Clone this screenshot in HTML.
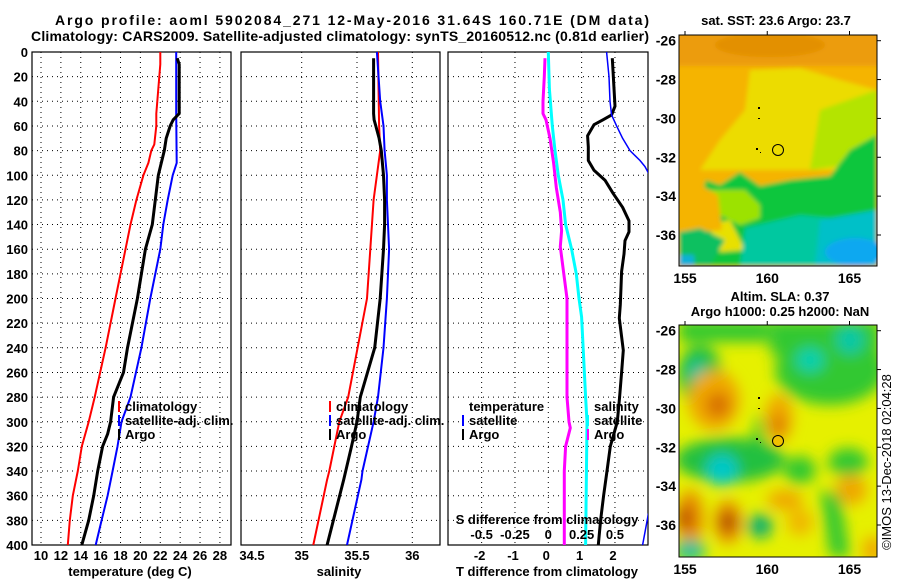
<!DOCTYPE html>
<html><head><meta charset="utf-8">
<style>
html,body{margin:0;padding:0;background:#fff;}
svg{display:block;font-family:"Liberation Sans",Arial,sans-serif;}
.t{font-weight:bold;font-size:13px;fill:#000;}
.h{font-weight:bold;font-size:14px;fill:#000;}
</style></head>
<body>
<svg id="c" width="900" height="580" viewBox="0 0 900 580" xmlns="http://www.w3.org/2000/svg">
<defs>
<clipPath id="cp1"><rect x="32" y="52" width="199" height="493"/></clipPath>
<clipPath id="cp2"><rect x="241" y="52" width="199" height="493"/></clipPath>
<clipPath id="cp3"><rect x="448" y="52" width="200" height="493"/></clipPath>
<clipPath id="cm1"><rect x="679" y="35" width="198" height="231"/></clipPath>
<clipPath id="cm2"><rect x="679" y="325" width="198" height="232"/></clipPath>
<filter id="bl" x="-20%" y="-20%" width="140%" height="140%"><feGaussianBlur stdDeviation="7"/></filter>
<filter id="bl2"><feGaussianBlur stdDeviation="2"/></filter>
</defs>
<text class="h" x="352" y="25" text-anchor="middle" textLength="594">Argo profile: aoml 5902084_271 12-May-2016 31.64S 160.71E (DM data)</text>
<text class="h" x="340" y="41" text-anchor="middle" textLength="618">Climatology: CARS2009. Satellite-adjusted climatology: synTS_20160512.nc (0.81d earlier)</text>

<g id="grids"></g>
<g id="series"></g>
<g id="labels"></g>

<g>
<text class="t" x="776" y="25" text-anchor="middle">sat. SST: 23.6 Argo: 23.7</text>
<g clip-path="url(#cm1)" filter="url(#bl2)">
<rect x="670" y="30" width="215" height="240" fill="#f5b400"/>
<rect x="670" y="30" width="215" height="36" fill="#ec9c08"/>
<ellipse cx="770" cy="45" rx="55" ry="12" fill="#e39000"/>
<polygon points="750,70 800,68 840,80 877,90 877,170 700,170 720,140 745,110" fill="#ecdc00"/>
<polygon points="820,110 877,90 877,160 810,170" fill="#b4e400"/>
<polygon points="679,215 700,200 706,180 720,185 740,172 760,186 790,180 830,176 850,150 877,135 877,266 679,266" fill="#08c63c"/>
<polygon points="710,190 745,190 760,205 760,218 740,225 720,215" fill="#9ce200"/>
<polygon points="708,225 730,220 745,250 720,252" fill="#e8e000"/>
<polygon points="679,200 700,185 718,195 722,230 700,232 679,232" fill="#f5b400"/>
<polygon points="679,232 700,228 725,240 710,266 679,266" fill="#10c060"/>
<polygon points="745,228 800,215 830,218 840,266 740,266" fill="#00c8a0"/>
<polygon points="820,220 877,210 877,266 815,266" fill="#00c0c8"/>
<ellipse cx="855" cy="252" rx="30" ry="14" fill="#10a8f0"/>
<rect x="679" y="255" width="15" height="11" fill="#08b0d8"/>
</g>
<rect x="679" y="35" width="198" height="231" fill="none" stroke="#000" stroke-width="1"/>
<circle cx="778" cy="150" r="5.5" fill="none" stroke="#000" stroke-width="1"/>
<rect x="758" y="107" width="2" height="2" fill="#000"/><rect x="758" y="118" width="2" height="1" fill="#000"/><rect x="756" y="148" width="2" height="2" fill="#000"/><rect x="760" y="152" width="1" height="1" fill="#000"/>
</g>

<g>
<text class="t" x="780" y="301" text-anchor="middle">Altim. SLA: 0.37</text>
<text class="t" x="780" y="316" text-anchor="middle">Argo h1000: 0.25 h2000: NaN</text>
<g clip-path="url(#cm2)">
<rect x="670" y="320" width="215" height="245" fill="#e6f000"/>
<g filter="url(#bl)">
<rect x="679" y="320" width="90" height="22" fill="#30c830"/>
<rect x="770" y="320" width="110" height="35" fill="#30c830"/>
<ellipse cx="830" cy="370" rx="55" ry="35" fill="#30c830"/>
<ellipse cx="700" cy="375" rx="22" ry="30" fill="#20c040"/>
<ellipse cx="697" cy="372" rx="9" ry="12" fill="#10c0a0"/>
<ellipse cx="810" cy="360" rx="14" ry="12" fill="#00d0b0"/>
<ellipse cx="850" cy="340" rx="14" ry="14" fill="#00c8a8"/>
<ellipse cx="714" cy="400" rx="26" ry="30" fill="#f0a800"/>
<ellipse cx="718" cy="405" rx="12" ry="13" fill="#d87000"/>
<ellipse cx="779" cy="418" rx="14" ry="24" fill="#f0a800"/>
<ellipse cx="778" cy="425" rx="6" ry="10" fill="#d87000"/>
<ellipse cx="759" cy="437" rx="5" ry="22" fill="#30c830"/>
<ellipse cx="730" cy="460" rx="55" ry="22" fill="#20c040"/>
<ellipse cx="722" cy="470" rx="16" ry="16" fill="#00c8c8"/>
<ellipse cx="800" cy="470" rx="16" ry="14" fill="#30c830"/>
<ellipse cx="848" cy="462" rx="20" ry="14" fill="#30c830"/>
<ellipse cx="690" cy="518" rx="14" ry="28" fill="#e89000"/>
<ellipse cx="685" cy="518" rx="7" ry="12" fill="#b84000"/>
<ellipse cx="728" cy="522" rx="14" ry="22" fill="#e89000"/>
<ellipse cx="728" cy="522" rx="7" ry="10" fill="#a03000"/>
<ellipse cx="760" cy="526" rx="13" ry="12" fill="#10b070"/>
<ellipse cx="785" cy="500" rx="18" ry="10" fill="#f0a800"/>
<ellipse cx="800" cy="522" rx="13" ry="14" fill="#f0b800"/>
<ellipse cx="851" cy="490" rx="16" ry="15" fill="#f0a800"/>
<polygon points="820,490 840,495 850,557 830,557" fill="#30c830"/>
<ellipse cx="690" cy="550" rx="16" ry="10" fill="#10c0a0"/>
<ellipse cx="873" cy="550" rx="10" ry="14" fill="#f0a800"/>
</g>
</g>
<rect x="679" y="325" width="198" height="232" fill="none" stroke="#000" stroke-width="1"/>
<circle cx="778" cy="441" r="5.5" fill="#f0c000" stroke="#000" stroke-width="1"/>
<rect x="758" y="397" width="2" height="2" fill="#000"/><rect x="758" y="408" width="2" height="1" fill="#000"/><rect x="756" y="438" width="2" height="2" fill="#000"/><rect x="760" y="442" width="1" height="1" fill="#000"/>
</g>
<g id="maplabels"></g>
<text x="891" y="462" font-size="13" text-anchor="middle" transform="rotate(-90 891 462)" fill="#000">©IMOS 13-Dec-2018 02:04:28</text>
</svg>
<script>
const depthTicks = [0,20,40,60,80,100,120,140,160,180,200,220,240,260,280,300,320,340,360,380,400];
const tempTicks = [10,12,14,16,18,20,22,24,26,28];
const salTicks = [34.5,35,35.5,36];
const salGrid = [35,35.5,36];
const tdiffTicks = [-2,-1,0,1,2];
const sdiffTicks = [-0.5,-0.25,0,0.25,0.5];
const latTicks = [-26,-28,-30,-32,-34,-36];
const lonTicks = [155,160,165];

const climTDepth = [0,10,50,60,75,80,90,100,120,140,160,200,240,280,300,320,340,360,380,400];
const climT      = [22.0,22.0,21.6,21.6,21.4,21.1,20.8,20.3,19.6,19.0,18.5,17.5,16.5,15.4,14.8,14.1,13.7,13.2,12.9,12.7];
const satTDepth  = [0,50,90,100,120,140,160,200,240,280,300,320,340,360,380,400];
const satT       = [23.6,23.6,23.65,23.25,22.75,22.3,22.0,21.0,20.1,19.0,18.1,17.7,17.2,16.7,16.1,15.5];
const argoTDepth = [5,10,50,55,60,70,80,90,100,120,140,160,200,240,260,280,300,310,320,340,360,380,400];
const argoT      = [23.7,23.9,23.9,23.3,23.0,22.6,22.4,22.1,21.8,21.5,21.2,20.5,19.7,18.7,18.3,17.3,17.0,16.7,16.2,15.7,15.3,14.8,14.1];

const climSDepth = [0,60,80,100,120,200,280,300,340,347,400];
const climS      = [35.69,35.70,35.71,35.68,35.65,35.59,35.42,35.34,35.25,35.23,35.105];
const satSDepth  = [0,40,60,80,100,120,140,160,200,240,280,300,340,347,400];
const satS       = [35.68,35.71,35.74,35.75,35.77,35.77,35.78,35.79,35.77,35.74,35.69,35.65,35.55,35.54,35.41];
const argoSDepth = [5,50,55,60,70,80,100,120,140,160,200,240,280,300,320,347,400];
const argoS      = [35.65,35.65,35.655,35.67,35.70,35.72,35.74,35.75,35.75,35.74,35.71,35.66,35.53,35.50,35.45,35.38,35.23];

const argoTdDepth = [5,44,51,55,59,68,77,88,96,104,115,126,137,146,153,164,178,191,205,216,242,260,280,300,320,340,360,380,400];
const argoTd      = [1.92,2.0,1.9,1.64,1.37,1.18,1.2,1.2,1.37,1.7,1.95,2.23,2.42,2.42,2.3,2.27,2.2,2.18,2.16,2.13,2.25,2.2,2.14,2.07,1.86,1.76,1.66,1.57,1.5];
const satTdDepth  = [0,20,40,51,60,70,80,88,93,98,130,200,300,360,375,400];
const satTd       = [1.75,1.82,1.85,1.9,2.05,2.23,2.45,2.75,2.9,3.0,3.6,4.0,3.6,3.2,3.0,2.83];
const satSdDepth  = [0,30,60,80,100,120,140,160,180,200,215,280,300,400];
const satSd       = [0.0,0.008,0.03,0.05,0.075,0.11,0.13,0.175,0.21,0.23,0.25,0.28,0.29,0.28];
const argoSdDepth = [5,20,40,50,55,70,90,110,130,145,158,175,200,215,280,300,305,320,340,400];
const argoSd      = [-0.025,-0.03,-0.04,-0.04,-0.017,0.013,0.04,0.06,0.09,0.1,0.09,0.11,0.14,0.14,0.14,0.155,0.165,0.13,0.12,0.12];

const Y = d => 52 + d*1.2325;
const XT = t => 41 + (t-10)*9.94;
const XS = s => 301.7 + (s-35)*110.6;
const XD = t => 548.3 + t*33.33;
const XSD = s => 548.3 + s*133.33;
const MX = lon => 685 + (lon-155)*16.45;
const MY1 = lat => 40.7 + (-26-lat)*19.43;
const MY2 = lat => 330.7 + (-26-lat)*19.43;

const NS='http://www.w3.org/2000/svg';
function mk(tag, attrs, parent){const e=document.createElementNS(NS,tag);for(const k in attrs)e.setAttribute(k,attrs[k]);parent.appendChild(e);return e;}
const grids=document.getElementById('grids'), series=document.getElementById('series'), labels=document.getElementById('labels'), ml=document.getElementById('maplabels');
const panels=[[32,231],[241,440],[448,648]];

panels.forEach((p,i)=>{
  depthTicks.forEach(d=>{ if(d>0&&d<400){const l=mk('line',{x1:p[0],x2:p[1],y1:Y(d),y2:Y(d),stroke:'#000','stroke-width':1,'stroke-dasharray':'1,4'},grids);
    
    }});
});
tempTicks.forEach(t=>{const l=mk('line',{x1:XT(t),x2:XT(t),y1:52,y2:545,stroke:'#000','stroke-dasharray':'1,4'},grids);
  
  
  const tx=mk('text',{x:XT(t),y:560,'text-anchor':'middle',class:'t'},labels);tx.textContent=t;
  
  });
salGrid.forEach(s=>{const l=mk('line',{x1:XS(s),x2:XS(s),y1:52,y2:545,stroke:'#000','stroke-dasharray':'1,4'},grids);
  
  });
salTicks.forEach(s=>{const tx=mk('text',{x:Math.max(XS(s),252),y:560,'text-anchor':'middle',class:'t'},labels);tx.textContent=s;
  
  });
tdiffTicks.forEach(t=>{const l=mk('line',{x1:XD(t),x2:XD(t),y1:52,y2:545,stroke:'#000','stroke-dasharray':'1,4'},grids);
  
  
  const tx=mk('text',{x:XD(t)-2,y:560,'text-anchor':'middle',class:'t'},labels);tx.textContent=t;
  
  });
sdiffTicks.forEach(s=>{const tx=mk('text',{x:XSD(s),y:539,'text-anchor':'middle',class:'t'},labels);tx.textContent=s;
  
  });
depthTicks.forEach(d=>{const tx=mk('text',{x:28,y:Y(d)+5,'text-anchor':'end',class:'t'},labels);tx.textContent=d;
  
  });
panels.forEach((p,i)=>{const r=mk('rect',{x:p[0],y:52,width:p[1]-p[0],height:493,fill:'none',stroke:'#000','stroke-width':1.2},grids);
  
  });

function line(xs, ds, X, color, w, clip, name){
  const pts=xs.map((v,i)=>X(v).toFixed(1)+','+Y(ds[i]).toFixed(1)).join(' ');
  const pl=mk('polyline',{points:pts,fill:'none',stroke:color,'stroke-width':w,'stroke-linejoin':'round','clip-path':'url(#'+clip+')'},series);
  
  
}
line(climT,climTDepth,XT,'#f00',2,'cp1','temperature-climatology-line');
line(satT,satTDepth,XT,'#00f',2,'cp1','temperature-satellite-line');
line(argoT,argoTDepth,XT,'#000',3,'cp1','temperature-argo-line');
line(climS,climSDepth,XS,'#f00',2,'cp2','salinity-climatology-line');
line(satS,satSDepth,XS,'#00f',2,'cp2','salinity-satellite-line');
line(argoS,argoSDepth,XS,'#000',3,'cp2','salinity-argo-line');
line(argoSd,argoSdDepth,XSD,'#f0f',3,'cp3','sdiff-argo-line');
line(satSd,satSdDepth,XSD,'#0ff',3,'cp3','sdiff-satellite-line');
line(argoTd,argoTdDepth,XD,'#000',3,'cp3','tdiff-argo-line');
line(satTd,satTdDepth,XD,'#00f',1.5,'cp3','tdiff-satellite-line');

function leg(x,y,color,txt,name){
  if(color){const m=mk('rect',{x:x-7,y:y-10,width:2,height:11,fill:color},labels);
    
    }
  const t=mk('text',{x:x,y:y,class:'t'},labels);t.textContent=txt;
  
  
}
leg(125,411,'#f00','climatology','legend-climatology');
leg(125,425,'#00f','satellite-adj. clim.','legend-satellite');
leg(125,439,'#000','Argo','legend-argo');
leg(336,411,'#f00','climatology','legend-climatology-salinity');
leg(336,425,'#00f','satellite-adj. clim.','legend-satellite-salinity');
leg(336,439,'#000','Argo','legend-argo-salinity');
leg(469,411,null,'temperature','legend-temperature-header');
leg(469,425,'#00f','satellite','legend-tdiff-satellite');
leg(469,439,'#000','Argo','legend-tdiff-argo');
leg(594,411,null,'salinity','legend-salinity-header');
leg(594,425,'#0ff','satellite','legend-sdiff-satellite');
leg(594,439,'#f0f','Argo','legend-sdiff-argo');

function title(x,y,txt,name){const t=mk('text',{x:x,y:y,'text-anchor':'middle',class:'t'},labels);t.textContent=txt;
  
  }
title(130,576,'temperature (deg C)','temperature-axis-title');
title(339,576,'salinity','salinity-axis-title');
title(547,576,'T difference from climatology','tdiff-axis-title');
title(547,524,'S difference from climatology','sdiff-axis-title');

[[MY1,35,266],[MY2,325,557]].forEach(([MY,top,bot])=>{
  latTicks.forEach(l=>{const tx=mk('text',{x:676,y:MY(l)+5,'text-anchor':'end',class:'h'},ml);tx.textContent=l;
    
    
    mk('line',{x1:877,x2:881,y1:MY(l),y2:MY(l),stroke:'#000'},ml);});
  lonTicks.forEach(l=>{const tx=mk('text',{x:MX(l),y:bot+17,'text-anchor':'middle',class:'h'},ml);tx.textContent=l;
    
    
    mk('line',{x1:MX(l),x2:MX(l),y1:top-4,y2:top,stroke:'#000'},ml);});
});
</script>
</body></html>
